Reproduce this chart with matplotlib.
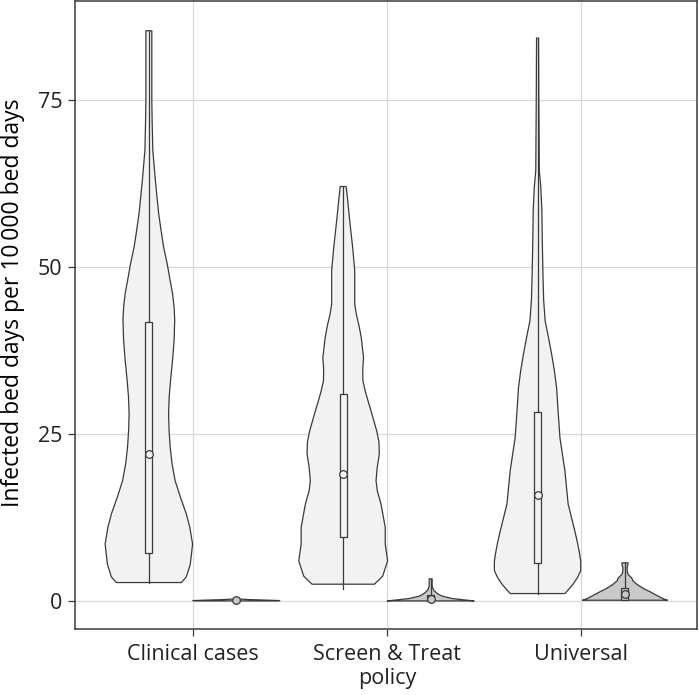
"""
Violin plot: infected bed days per 10 000 bed days by policy,
light = all infections, dark = second group (dodged to the right).
Profiles read off the reference figure.
"""
import matplotlib
matplotlib.use("Agg")
import matplotlib.pyplot as plt
import numpy as np

categories = ["Clinical cases", "Screen & Treat\npolicy", "Universal"]

# violin outlines: y values and half-widths (44.3 = widest violin)
light_y = [
    [2.75, 3.6, 5.5, 8.5, 11, 13, 15.5, 18, 20.5, 23, 25.5, 28, 30.5, 33, 36, 39, 42, 43.9, 46, 47.9, 50.5, 52.9, 55.5, 57.9, 60.5, 62.9, 67.4, 72, 75, 82, 85.3],
    [2.5, 3.7, 6, 8.5, 11, 14.5, 16.5, 18, 20, 22, 23.8, 25.4, 27.5, 29.5, 31.3, 32.9, 34.6, 36.4, 39.4, 41.2, 42.9, 44.4, 49.4, 53, 56.9, 60, 62],
    [1.1, 1.8, 2.5, 3.5, 4.5, 5.8, 7, 8.7, 10.5, 14.5, 19.5, 24.4, 28, 31.9, 34.5, 36.9, 39.5, 41.9, 45, 49.4, 54, 58.4, 61.9, 64.4, 75, 84.2],
]
light_w = [
    [33, 38, 42, 44.3, 41.5, 38, 32, 26.6, 23.5, 21.6, 20.5, 20, 20.6, 22, 24, 25.6, 26.2, 25.6, 24, 21.6, 18.5, 15, 12.3, 10, 8.2, 6.6, 4, 3.3, 3, 3, 3],
    [31.6, 40, 45, 42.6, 42.6, 38.3, 34.5, 33.3, 34.5, 36.6, 36.2, 34, 30, 26, 22.5, 20, 19.8, 20.6, 18.3, 16, 13.3, 11.7, 11.7, 9.5, 6.6, 4.5, 3],
    [27.7, 32, 36, 40.5, 43.7, 43.8, 42.7, 40.5, 37.7, 31, 27.7, 22.7, 21, 19.3, 17, 14.3, 11, 7.7, 6.2, 5.4, 4.8, 4.4, 3.3, 1.8, 1.3, 1.0],
]
dark_y = [
    [0.0, 0.05, 0.12, 0.2, 0.28],
    [0.0, 0.15, 0.35, 0.7, 0.9, 1.2, 1.6, 2.2, 2.8, 3.3],
    [0.1, 0.25, 0.6, 1.0, 1.4, 1.75, 2.2, 2.5, 3.0, 3.4, 3.7, 4.0, 4.5, 5.0, 5.4, 5.7],
]
dark_w = [
    [40, 44, 30, 12, 4],
    [44, 34, 22, 12, 9, 6, 3, 1.5, 1.5, 1.5],
    [43, 40, 35, 30, 25, 20, 15, 12, 8, 7, 5, 3, 2.2, 2.2, 3, 3],
]

# box stats: lower whisker, q1, median, q3, upper whisker
light_box = [
    [2.75, 7.2, 22.05, 41.7, 85.3],
    [1.8, 9.6, 19.05, 30.9, 62.0],
    [1.1, 5.7, 15.8, 28.3, 84.2],
]
dark_box = [
    [0.0, 0.02, 0.08, 0.15, 0.28],
    [0.0, 0.1, 0.35, 0.9, 3.3],
    [0.1, 0.15, 1.0, 2.0, 5.7],
]

LIGHT = "#f2f2f2"
DARK = "#c9c9c9"
EDGE = "#3a3a3a"
GRID = "#d9d9d9"

plt.rcParams["font.family"] = ["Open Sans", "DejaVu Sans"]

fig = plt.figure(figsize=(6.99, 6.95), dpi=100)
ax = fig.add_axes([0.1073, 0.0950, 0.8897, 0.9040])

dodge = 0.225
max_hw = 0.225 / 44.3
box_hw = 0.018


def draw_violin(xc, ys, ws, box, fill):
    ys = np.array(ys)
    hw = np.array(ws) * max_hw
    xs = np.concatenate([xc - hw, (xc + hw)[::-1]])
    yy = np.concatenate([ys, ys[::-1]])
    ax.fill(xs, yy, facecolor=fill, edgecolor=EDGE, linewidth=0.9,
            joinstyle="round", zorder=3)
    lo, q1, med, q3, hi = box
    ax.plot([xc, xc], [lo, q1], color=EDGE, lw=0.9, zorder=4)
    ax.plot([xc, xc], [q3, hi], color=EDGE, lw=0.9, zorder=4)
    ax.add_patch(plt.Rectangle((xc - box_hw, q1), 2 * box_hw, q3 - q1,
                               facecolor=fill, edgecolor=EDGE, lw=0.9, zorder=4))
    ax.plot([xc], [med], marker="o", ms=5.5, mfc=fill, mec=EDGE, mew=0.9, zorder=5)


for i in range(len(categories)):
    draw_violin(i + 1 - dodge, light_y[i], light_w[i], light_box[i], LIGHT)
    draw_violin(i + 1 + dodge, dark_y[i], dark_w[i], dark_box[i], DARK)

ax.set_xlim(0.395, 3.595)
ax.set_ylim(-4.2, 89.8)
ax.set_xticks([1, 2, 3])
ax.set_xticklabels(categories, linespacing=1.15)
ax.set_yticks([0, 25, 50, 75])
ax.set_ylabel("Infected bed days per 10\u2009000 bed days", fontsize=16.5)
ax.yaxis.set_label_coords(-0.081, 0.52)
ax.tick_params(labelsize=15.5, length=5, width=0.9, color=EDGE, labelcolor="#222222", pad=4)
ax.tick_params(axis="x", pad=6)
ax.grid(True, color=GRID, lw=0.9, zorder=0)
ax.set_axisbelow(True)
for s in ax.spines.values():
    s.set_color(EDGE)
    s.set_linewidth(1.1)

fig.savefig("out.png", dpi=100)
